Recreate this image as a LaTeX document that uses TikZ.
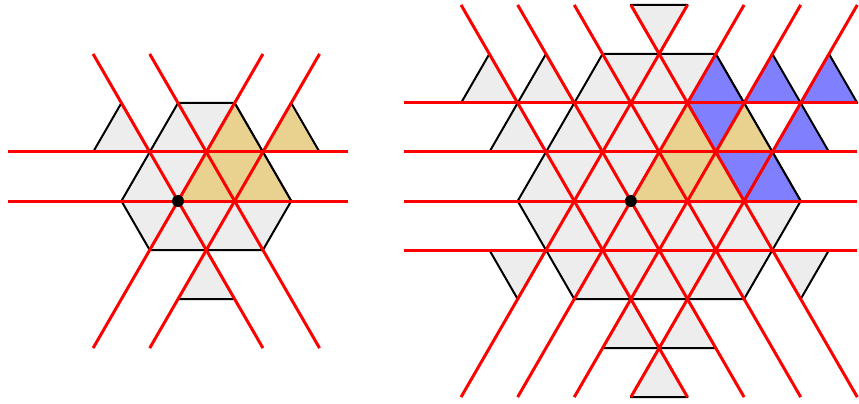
\documentclass[tikz,border=0pt]{standalone}
\usepackage{tikz}
\definecolor{cellgold}{RGB}{233,209,143}
\definecolor{cellblue}{RGB}{128,128,255}
\tikzset{
    tricell/.style={fill=black!7, draw=black, line width=1pt, line join=round},
    goldtri/.style={tricell, fill=cellgold},
    bluetri/.style={tricell, fill=cellblue},
    cutline/.style={red, line width=1.5pt},
    basept/.style={circle, fill=black, inner sep=0pt, minimum size=6pt}
}

\begin{document}
\begin{tikzpicture}[y=0.866cm]
    \useasboundingbox (-3.145cm,-3.569cm) rectangle (12.03cm,3.551cm);

    % n = 2
    \begin{scope}
        % cells
        \filldraw[tricell] (0,2) -- (1,2) -- (2,0) -- (1.5,-1) -- (-0.5,-1) -- (-1,0) -- cycle;
        \filldraw[tricell] (-1,2) -- ++(-0.5,-1) -- ++(1,0) -- cycle;
        \filldraw[tricell] (0.5,-1) -- ++(-0.5,-1) -- ++(1,0) -- cycle;
        \filldraw[goldtri] (1,2) -- (0,0) -- (2,0) -- cycle;
        \filldraw[goldtri] (2,2) -- ++(-0.5,-1) -- ++(1,0) -- cycle;

        % lines
        \foreach \r in {0,1}
            \draw[cutline] (-3,\r) -- (3,\r);
        \foreach \i in {0,1} {
            \draw[cutline] (\i-1.5,3) -- (\i+1.5,-3);
            \draw[cutline] (\i+1.5,3) -- (\i-1.5,-3);
        }

        \node[basept] (o1) at (0,0) {};
    \end{scope}

    % n = 4
    \begin{scope}[xshift=8cm]
        % cells
        \filldraw[tricell] (-0.5,3) -- (1.5,3) -- (3,0) -- (2,-2) -- (-1,-2) -- (-2,0) -- cycle;
        % up triangles, given by apex
        \foreach \x/\y in {-2.5/3, -1.5/3, -2/2, 0/-2, 1/-2, 0.5/-3}
            \filldraw[tricell] (\x,\y) -- ++(-0.5,-1) -- ++(1,0) -- cycle;
        % down triangles, given by top left corner
        \foreach \x/\y in {0/4, -2.5/-1, 2.5/-1}
            \filldraw[tricell] (\x,\y) -- ++(1,0) -- ++(-0.5,-1) -- cycle;
        \filldraw[goldtri] (1,2) -- (0,0) -- (2,0) -- cycle;
        \filldraw[goldtri] (2,2) -- ++(-0.5,-1) -- ++(1,0) -- cycle;
        \foreach \x/\y in {1.5/3, 2.5/3, 3.5/3, 3/2, 2.5/1}
            \filldraw[bluetri] (\x,\y) -- ++(-0.5,-1) -- ++(1,0) -- cycle;
        \foreach \x/\y in {1/2, 1.5/1}
            \filldraw[bluetri] (\x,\y) -- ++(1,0) -- ++(-0.5,-1) -- cycle;

        % lines
        \foreach \r in {-1,...,2}
            \draw[cutline] (-4,\r) -- (4,\r);
        \foreach \i in {-1,...,2} {
            \draw[cutline] (\i-2,4) -- (\i+2,-4);
            \draw[cutline] (\i+2,4) -- (\i-2,-4);
        }

        \node[basept] (o2) at (0,0) {};
    \end{scope}
\end{tikzpicture}
\end{document}
